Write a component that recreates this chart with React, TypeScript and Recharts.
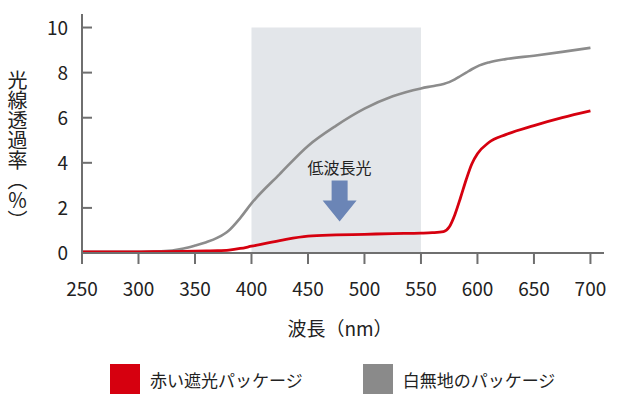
import React from "react";
import { LineChart, Line, XAxis, YAxis, ReferenceArea, ReferenceDot, Legend } from "recharts";

const wavelengths = [250, 300, 320, 340, 350, 360, 370, 380, 390, 400, 425, 450, 475, 500, 525, 550, 560, 570, 575, 580, 585, 590, 595, 600, 610, 625, 650, 675, 700];
const whiteValues = [0.05, 0.05, 0.07, 0.2, 0.33, 0.48, 0.68, 1.0, 1.55, 2.2, 3.5, 4.75, 5.65, 6.4, 6.95, 7.3, 7.4, 7.5, 7.58, 7.7, 7.85, 8.0, 8.15, 8.28, 8.45, 8.6, 8.75, 8.92, 9.1];
const redValues = [0.05, 0.05, 0.06, 0.07, 0.08, 0.09, 0.1, 0.13, 0.2, 0.3, 0.55, 0.75, 0.8, 0.83, 0.86, 0.88, 0.9, 0.95, 1.15, 1.7, 2.45, 3.25, 3.95, 4.4, 4.9, 5.25, 5.65, 6.0, 6.3];

const xTicks = [250, 300, 350, 400, 450, 500, 550, 600, 650, 700];
const yTicks = [0, 2, 4, 6, 8, 10];

const RED_NAME = "赤い遮光パッケージ";
const WHITE_NAME = "白無地のパッケージ";
const legendOrder = [RED_NAME, WHITE_NAME];

const data = wavelengths.map((w, i) => ({ w, red: redValues[i], white: whiteValues[i] }));

const FONT = "'Noto Sans CJK JP', 'Noto Sans', sans-serif";
const AXIS = "#6f6f6f";
const TEXT = "#222";
const X_MIN = 250;

// x comes in at the end of the tick line (axis + 11)
function XTick(props: any) {
  const { x, y, payload } = props;
  return (
    <text x={x} y={Number(y) + 32} textAnchor="middle" fontSize={19} fill={TEXT} fontFamily={FONT}>
      {payload.value}
    </text>
  );
}

function YTick(props: any) {
  const { x, y, payload } = props;
  return (
    <text x={Number(x) - 14} y={Number(y) + 7} textAnchor="end" fontSize={19} fill={TEXT} fontFamily={FONT}>
      {payload.value}
    </text>
  );
}

// inward tick marks on the y axis
const YMark = (props: any) => (
  <g>
    <rect x={props.cx} y={props.cy - 1} width={10} height={2} fill={AXIS} />
  </g>
);

function Arrow(props: any) {
  const { cx, cy } = props;
  const c = "#6b85b6";
  return (
    <g>
      <text x={cx} y={cy - 47} textAnchor="middle" fontSize={16} fill={TEXT} fontFamily={FONT}>
        低波長光
      </text>
      <polygon
        points={`${cx - 8},${cy - 41} ${cx + 8},${cy - 41} ${cx + 8},${cy - 21} ${cx + 17},${cy - 21} ${cx},${cy} ${cx - 17},${cy - 21} ${cx - 8},${cy - 21}`}
        fill={c}
      />
    </g>
  );
}

function LegendContent(props: any) {
  const items = [...(props.payload || [])].sort(
    (a: any, b: any) => legendOrder.indexOf(a.value) - legendOrder.indexOf(b.value)
  );
  return (
    <div style={{ display: "flex", paddingLeft: 110, gap: 60, fontFamily: FONT }}>
      {items.map((it: any) => (
        <div key={it.value} style={{ display: "flex", alignItems: "center" }}>
          <span style={{ width: 30, height: 30, background: it.value === RED_NAME ? "#d6000f" : "#8a8a8a", display: "inline-block" }} />
          <span style={{ marginLeft: 10, fontSize: 17, color: TEXT }}>{it.value}</span>
        </div>
      ))}
    </div>
  );
}

export default function App() {
  return (
    <div style={{ position: "absolute", left: 0, top: 0, width: 628, height: 397, background: "#fff" }}>
      <LineChart width={628} height={397} data={data} margin={{ top: 14, right: 24, left: 0, bottom: 104 }}>
        <ReferenceArea x1={400} x2={550} y1={0} y2={10} fill="#e3e6ea" fillOpacity={1} stroke="none" ifOverflow="visible" />
        <XAxis
          dataKey="w"
          type="number"
          domain={[X_MIN, 712]}
          ticks={xTicks}
          height={40}
          tickSize={11}
          tickMargin={0}
          tick={<XTick />}
          axisLine={{ stroke: AXIS, strokeWidth: 2 }}
          tickLine={{ stroke: AXIS, strokeWidth: 2 }}
          interval={0}
        />
        <YAxis
          type="number"
          domain={[0, 10.6]}
          ticks={yTicks}
          width={82}
          tickSize={0}
          tickMargin={0}
          tick={<YTick />}
          axisLine={{ stroke: AXIS, strokeWidth: 2 }}
          tickLine={false}
          interval={0}
        />
        {yTicks.filter((t) => t !== 0).map((t) => (
          <ReferenceDot key={`yt${t}`} x={X_MIN} y={t} r={0} shape={<YMark />} ifOverflow="visible" />
        ))}
        <Line type="monotone" dataKey="white" name={WHITE_NAME} stroke="#8c8c8c" strokeWidth={2.6} dot={false} isAnimationActive={false} />
        <Line type="monotone" dataKey="red" name={RED_NAME} stroke="#d6000f" strokeWidth={2.8} dot={false} isAnimationActive={false} />
        <ReferenceDot x={478} y={1.4} r={0} shape={<Arrow />} ifOverflow="visible" />
        <Legend
          layout="horizontal"
          align="center"
          verticalAlign="middle"
          content={<LegendContent />}
          wrapperStyle={{ top: 364, left: 0, width: 628 }}
        />
      </LineChart>
      <div
        style={{
          position: "absolute",
          left: 285,
          top: 314,
          width: 110,
          textAlign: "center",
          fontFamily: FONT,
          fontSize: 19,
          color: TEXT,
          lineHeight: "28px",
        }}
      >
        波長（nm）
      </div>
      <div
        style={{
          position: "absolute",
          left: 6,
          top: 70,
          writingMode: "vertical-rl",
          fontFamily: FONT,
          fontSize: 20,
          color: TEXT,
          lineHeight: "22px",
        }}
      >
        光線透過率（％）
      </div>
    </div>
  );
}
